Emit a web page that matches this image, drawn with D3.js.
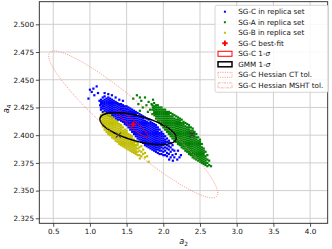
<!DOCTYPE html>
<html>
<head>
<meta charset="utf-8">
<script src="https://cdn.jsdelivr.net/npm/d3@7"></script>
<style>
  html, body { margin: 0; padding: 0; background: #fff; }
  svg { display: block; font-family: "DejaVu Sans", sans-serif; }
</style>
</head>
<body>
<svg id="chart" width="332" height="249"></svg>
<script>
// tick labels
const xTicks = [0.5, 1.0, 1.5, 2.0, 2.5, 3.0, 3.5, 4.0];
const yTicks = [2.325, 2.350, 2.375, 2.400, 2.425, 2.450, 2.475, 2.500];

// replica clouds: [a2, [a4 values]]
const sgcReplicas = [
  [0.98, [2.433]], [1.00, [2.441]], [1.024, [2.439]], [1.047, [2.442]], [1.06, [2.436]],
  [1.092, [2.444]], [1.11, [2.438]], [1.13, [2.431]], [1.14, [2.427]],
  [1.150, [2.423, 2.425, 2.428, 2.430, 2.432]],
  [1.175, [2.421, 2.424, 2.426, 2.427, 2.429, 2.431, 2.434]],
  [1.200, [2.420, 2.422, 2.424, 2.426, 2.428, 2.430, 2.432, 2.435, 2.438]],
  [1.225, [2.419, 2.421, 2.423, 2.425, 2.427, 2.429, 2.431, 2.433]],
  [1.250, [2.418, 2.420, 2.422, 2.424, 2.426, 2.428, 2.430, 2.432, 2.434, 2.437]],
  [1.275, [2.417, 2.419, 2.421, 2.423, 2.425, 2.427, 2.429, 2.431, 2.433]],
  [1.300, [2.416, 2.418, 2.420, 2.422, 2.424, 2.426, 2.428, 2.430, 2.432, 2.436]],
  [1.325, [2.416, 2.418, 2.420, 2.421, 2.423, 2.425, 2.427, 2.429, 2.431]],
  [1.350, [2.415, 2.417, 2.419, 2.421, 2.423, 2.425, 2.427, 2.429, 2.430, 2.434]],
  [1.375, [2.414, 2.416, 2.418, 2.420, 2.422, 2.424, 2.426, 2.428, 2.429]],
  [1.400, [2.414, 2.416, 2.418, 2.419, 2.421, 2.423, 2.425, 2.427, 2.428, 2.432]],
  [1.425, [2.413, 2.415, 2.417, 2.419, 2.421, 2.423, 2.424, 2.426, 2.428]],
  [1.450, [2.412, 2.414, 2.416, 2.418, 2.420, 2.422, 2.424, 2.426, 2.427, 2.431]],
  [1.475, [2.410, 2.412, 2.414, 2.416, 2.418, 2.420, 2.422, 2.424, 2.426]],
  [1.500, [2.409, 2.411, 2.413, 2.415, 2.417, 2.419, 2.421, 2.423, 2.424, 2.426]],
  [1.525, [2.407, 2.409, 2.411, 2.413, 2.415, 2.417, 2.419, 2.421, 2.423, 2.425]],
  [1.550, [2.405, 2.407, 2.409, 2.411, 2.413, 2.415, 2.417, 2.419, 2.421, 2.422, 2.424]],
  [1.575, [2.403, 2.405, 2.407, 2.409, 2.411, 2.413, 2.415, 2.417, 2.419, 2.421, 2.423]],
  [1.600, [2.401, 2.403, 2.405, 2.407, 2.409, 2.411, 2.413, 2.415, 2.417, 2.419, 2.420, 2.422]],
  [1.625, [2.399, 2.401, 2.403, 2.405, 2.407, 2.409, 2.411, 2.413, 2.415, 2.417, 2.419, 2.421]],
  [1.650, [2.397, 2.399, 2.401, 2.403, 2.405, 2.407, 2.409, 2.411, 2.413, 2.415, 2.417, 2.420]],
  [1.675, [2.396, 2.398, 2.400, 2.402, 2.404, 2.406, 2.408, 2.410, 2.412, 2.414, 2.416, 2.419]],
  [1.700, [2.394, 2.396, 2.398, 2.400, 2.402, 2.404, 2.406, 2.408, 2.410, 2.412, 2.414, 2.416, 2.418]],
  [1.725, [2.393, 2.395, 2.397, 2.399, 2.401, 2.403, 2.405, 2.407, 2.409, 2.411, 2.413, 2.415, 2.417]],
  [1.750, [2.391, 2.393, 2.395, 2.397, 2.399, 2.401, 2.403, 2.405, 2.407, 2.409, 2.411, 2.413, 2.416]],
  [1.775, [2.390, 2.392, 2.394, 2.396, 2.398, 2.400, 2.402, 2.404, 2.406, 2.408, 2.410, 2.412, 2.415]],
  [1.800, [2.389, 2.391, 2.393, 2.395, 2.397, 2.399, 2.401, 2.403, 2.405, 2.407, 2.409, 2.411, 2.414]],
  [1.825, [2.388, 2.390, 2.392, 2.394, 2.396, 2.398, 2.400, 2.402, 2.404, 2.406, 2.408, 2.410, 2.412]],
  [1.850, [2.387, 2.389, 2.391, 2.393, 2.395, 2.397, 2.399, 2.401, 2.403, 2.405, 2.407, 2.409, 2.411]],
  [1.875, [2.386, 2.388, 2.390, 2.392, 2.394, 2.396, 2.398, 2.400, 2.402, 2.404, 2.406, 2.408, 2.410]],
  [1.900, [2.385, 2.387, 2.389, 2.391, 2.393, 2.395, 2.397, 2.399, 2.401, 2.403, 2.405, 2.407, 2.409]],
  [1.925, [2.384, 2.387, 2.389, 2.391, 2.393, 2.395, 2.397, 2.399, 2.401, 2.403, 2.405, 2.407]],
  [1.950, [2.383, 2.386, 2.388, 2.390, 2.392, 2.394, 2.396, 2.398, 2.400, 2.402, 2.405]],
  [1.975, [2.383, 2.386, 2.389, 2.391, 2.393, 2.395, 2.397, 2.399, 2.401, 2.403]],
  [2.000, [2.382, 2.385, 2.388, 2.391, 2.393, 2.395, 2.397, 2.399, 2.401]],
  [2.025, [2.382, 2.386, 2.389, 2.392, 2.394, 2.396, 2.399]],
  [2.050, [2.381, 2.384, 2.388, 2.391, 2.394, 2.397]],
  [2.075, [2.383, 2.387, 2.390, 2.393, 2.395]],
  [2.100, [2.380, 2.385, 2.389, 2.393]],
  [2.125, [2.382, 2.387, 2.391]],
  [2.150, [2.380, 2.386]],
  [2.08, [2.378]], [2.13, [2.377]], [2.17, [2.383]], [2.19, [2.378]], [2.20, [2.386]],
  [2.22, [2.380]], [2.24, [2.382]]
];

const sgaReplicas = [
  [1.59, [2.433]], [1.64, [2.436]], [1.66, [2.428]], [1.68, [2.422, 2.434]], [1.70, [2.431]],
  [1.72, [2.425]], [1.75, [2.434]], [1.77, [2.427]], [1.79, [2.421]], [1.80, [2.430]],
  [1.82, [2.423]], [1.84, [2.428]], [1.86, [2.425, 2.432]],
  [1.850, [2.419, 2.423, 2.427]],
  [1.875, [2.418, 2.420, 2.422, 2.424, 2.426, 2.429]],
  [1.900, [2.415, 2.417, 2.419, 2.421, 2.423, 2.425, 2.427]],
  [1.925, [2.413, 2.415, 2.417, 2.419, 2.421, 2.423, 2.425, 2.427]],
  [1.950, [2.411, 2.413, 2.415, 2.417, 2.419, 2.421, 2.423, 2.425]],
  [1.975, [2.409, 2.411, 2.413, 2.415, 2.417, 2.419, 2.421, 2.423, 2.425]],
  [2.000, [2.407, 2.409, 2.411, 2.413, 2.415, 2.417, 2.419, 2.421, 2.423]],
  [2.025, [2.405, 2.407, 2.409, 2.411, 2.413, 2.415, 2.417, 2.419, 2.421, 2.423]],
  [2.050, [2.403, 2.405, 2.407, 2.409, 2.411, 2.413, 2.415, 2.417, 2.419, 2.421]],
  [2.075, [2.401, 2.403, 2.405, 2.407, 2.409, 2.411, 2.413, 2.415, 2.417, 2.419, 2.421]],
  [2.100, [2.399, 2.401, 2.403, 2.405, 2.407, 2.409, 2.411, 2.413, 2.415, 2.417, 2.420]],
  [2.125, [2.397, 2.399, 2.401, 2.403, 2.405, 2.407, 2.409, 2.411, 2.413, 2.415, 2.417, 2.419]],
  [2.150, [2.395, 2.397, 2.399, 2.401, 2.403, 2.405, 2.407, 2.409, 2.411, 2.413, 2.415, 2.418]],
  [2.175, [2.394, 2.396, 2.398, 2.400, 2.402, 2.404, 2.406, 2.408, 2.410, 2.412, 2.414, 2.417]],
  [2.200, [2.392, 2.394, 2.396, 2.398, 2.400, 2.402, 2.404, 2.406, 2.408, 2.410, 2.412, 2.414, 2.416]],
  [2.225, [2.391, 2.393, 2.395, 2.397, 2.399, 2.401, 2.403, 2.405, 2.407, 2.409, 2.411, 2.413, 2.415]],
  [2.250, [2.389, 2.391, 2.393, 2.395, 2.397, 2.399, 2.401, 2.403, 2.405, 2.407, 2.409, 2.411, 2.414]],
  [2.275, [2.388, 2.390, 2.392, 2.394, 2.396, 2.398, 2.400, 2.402, 2.404, 2.406, 2.408, 2.410, 2.412]],
  [2.300, [2.386, 2.388, 2.390, 2.392, 2.394, 2.396, 2.398, 2.400, 2.402, 2.404, 2.406, 2.408, 2.411]],
  [2.325, [2.385, 2.387, 2.389, 2.391, 2.393, 2.395, 2.397, 2.399, 2.401, 2.403, 2.405, 2.407, 2.410]],
  [2.350, [2.383, 2.385, 2.387, 2.389, 2.391, 2.393, 2.395, 2.397, 2.399, 2.401, 2.403, 2.405, 2.407, 2.409]],
  [2.375, [2.382, 2.384, 2.386, 2.388, 2.390, 2.392, 2.394, 2.396, 2.398, 2.400, 2.402, 2.404, 2.407]],
  [2.400, [2.380, 2.382, 2.384, 2.386, 2.388, 2.390, 2.392, 2.394, 2.396, 2.398, 2.400, 2.402, 2.404, 2.406]],
  [2.425, [2.379, 2.381, 2.383, 2.385, 2.387, 2.389, 2.391, 2.393, 2.395, 2.397, 2.399, 2.401, 2.403]],
  [2.450, [2.378, 2.380, 2.382, 2.384, 2.386, 2.388, 2.390, 2.392, 2.394, 2.396, 2.398, 2.401]],
  [2.475, [2.377, 2.379, 2.381, 2.383, 2.385, 2.387, 2.389, 2.391, 2.393, 2.395, 2.398]],
  [2.500, [2.376, 2.378, 2.380, 2.382, 2.384, 2.386, 2.388, 2.390, 2.392, 2.394, 2.396]],
  [2.525, [2.375, 2.377, 2.379, 2.381, 2.383, 2.385, 2.387, 2.389, 2.392]],
  [2.550, [2.374, 2.376, 2.378, 2.380, 2.382, 2.384, 2.386, 2.388]],
  [2.575, [2.373, 2.375, 2.377, 2.379, 2.381, 2.385]],
  [2.600, [2.372, 2.375, 2.378, 2.382]],
  [2.625, [2.373, 2.377]],
  [2.650, [2.372]]
];

const sgbReplicas = [
  [1.150, [2.413, 2.416, 2.418]],
  [1.175, [2.408, 2.410, 2.412, 2.414, 2.416, 2.419]],
  [1.200, [2.405, 2.407, 2.409, 2.411, 2.413, 2.415, 2.417, 2.420]],
  [1.225, [2.403, 2.405, 2.407, 2.409, 2.411, 2.413, 2.415, 2.417, 2.419]],
  [1.250, [2.401, 2.403, 2.405, 2.407, 2.409, 2.411, 2.413, 2.415, 2.417, 2.419]],
  [1.275, [2.400, 2.402, 2.404, 2.406, 2.408, 2.410, 2.412, 2.414, 2.416, 2.418]],
  [1.300, [2.398, 2.400, 2.402, 2.404, 2.406, 2.408, 2.410, 2.412, 2.414, 2.416]],
  [1.325, [2.397, 2.399, 2.401, 2.403, 2.405, 2.407, 2.409, 2.411, 2.413, 2.415]],
  [1.350, [2.395, 2.397, 2.399, 2.401, 2.403, 2.405, 2.407, 2.409, 2.411, 2.413]],
  [1.375, [2.394, 2.396, 2.398, 2.400, 2.402, 2.404, 2.406, 2.408, 2.410, 2.412]],
  [1.400, [2.392, 2.394, 2.396, 2.398, 2.400, 2.402, 2.404, 2.406, 2.408, 2.410]],
  [1.425, [2.391, 2.393, 2.395, 2.397, 2.399, 2.401, 2.403, 2.405, 2.407, 2.409]],
  [1.450, [2.390, 2.392, 2.394, 2.396, 2.398, 2.400, 2.402, 2.404, 2.407]],
  [1.475, [2.389, 2.391, 2.393, 2.395, 2.397, 2.399, 2.401, 2.403, 2.405]],
  [1.500, [2.388, 2.390, 2.392, 2.394, 2.396, 2.398, 2.400, 2.402, 2.404]],
  [1.525, [2.387, 2.389, 2.391, 2.393, 2.395, 2.397, 2.399, 2.401]],
  [1.550, [2.386, 2.388, 2.390, 2.392, 2.394, 2.396, 2.398, 2.400]],
  [1.575, [2.385, 2.387, 2.389, 2.391, 2.393, 2.395, 2.397, 2.399]],
  [1.600, [2.384, 2.386, 2.388, 2.390, 2.392, 2.394, 2.396]],
  [1.625, [2.383, 2.385, 2.387, 2.389, 2.391, 2.394]],
  [1.650, [2.382, 2.385, 2.388, 2.391, 2.393]],
  [1.675, [2.382, 2.386, 2.389]],
  [1.700, [2.381, 2.385, 2.390]],
  [1.725, [2.383, 2.387]],
  [1.750, [2.380, 2.384]],
  [1.68, [2.379]], [1.78, [2.381]], [1.80, [2.376]]
];

// best fits and 1-sigma covariances: [a2, a4] and [sigma2, sigma4, rho]
const sgcBestFit = [1.59, 2.4097];
const sgcSigma = [0.2005, 0.01153, -0.934];
const gmmCenter = [1.656, 2.4059];
const gmmSigma = [0.520, 0.01443, -0.589];
const ctTolerance = 5.745;
const otherBestFits = [[2.392, 2.4006], [1.387, 2.400]];

const legendLabels = [
  'SG-C in replica set', 'SG-A in replica set', 'SG-B in replica set', 'SG-C best-fit',
  'SG-C 1-', 'GMM 1-', 'SG-C Hessian CT tol.', 'SG-C Hessian MSHT tol.'
];

const svg = d3.select('#chart');
const W = 332, H = 249;
const m = { left: 39.3, right: 327.7, top: 1.7, bottom: 223.3 };

const x = d3.scaleLinear().domain([0.31, 4.24]).range([m.left, m.right]);
const y = d3.scaleLinear().domain([2.3205, 2.5204]).range([m.bottom, m.top]);

svg.append('defs').append('clipPath').attr('id', 'plot')
  .append('rect').attr('x', m.left).attr('y', m.top)
  .attr('width', m.right - m.left).attr('height', m.bottom - m.top);

// grid
const grid = svg.append('g').attr('stroke', '#cfcfcf').attr('stroke-width', 1);
grid.selectAll('.gx').data(xTicks).enter().append('line')
  .attr('x1', d => x(d)).attr('x2', d => x(d)).attr('y1', m.top).attr('y2', m.bottom);
grid.selectAll('.gy').data(yTicks).enter().append('line')
  .attr('y1', d => y(d)).attr('y2', d => y(d)).attr('x1', m.left).attr('x2', m.right);

const plot = svg.append('g').attr('clip-path', 'url(#plot)');

function cloud(cols, color) {
  const pts = cols.flatMap(([a, ys]) => ys.map(b => [a, b]));
  plot.append('g').attr('fill', color)
    .selectAll('rect').data(pts).enter().append('rect')
    .attr('x', d => x(d[0]) - 1.1).attr('y', d => y(d[1]) - 1.1)
    .attr('width', 2.2).attr('height', 2.2);
}
cloud(sgcReplicas, '#0000ff');
cloud(sgaReplicas, '#008000');
cloud(sgbReplicas, '#bfbf00');

// ellipse outline from a centre and [s2, s4, rho], scaled by k
function ellipse(c, s, k) {
  const t = d3.range(0, 361, 2).map(a => a * Math.PI / 180);
  const r = Math.sqrt(1 - s[2] * s[2]);
  return d3.line()
    .x(a => x(c[0] + k * s[0] * Math.cos(a)))
    .y(a => y(c[1] + k * s[1] * (s[2] * Math.cos(a) + r * Math.sin(a))))(t);
}

plot.append('path').attr('d', ellipse(sgcBestFit, sgcSigma, 1))
  .attr('fill', 'none').attr('stroke', '#ff0000').attr('stroke-width', 1);
plot.append('path').attr('d', ellipse(gmmCenter, gmmSigma, 1))
  .attr('fill', 'none').attr('stroke', '#000').attr('stroke-width', 1.5);
plot.append('path').attr('d', ellipse(sgcBestFit, sgcSigma, ctTolerance))
  .attr('fill', 'none').attr('stroke', '#f28a78').attr('stroke-width', 0.9)
  .attr('stroke-dasharray', '1 1.3');

// best-fit markers
const plusPath = 'M-0.9,-2.7H0.9V-0.9H2.7V0.9H0.9V2.7H-0.9V0.9H-2.7V-0.9H-0.9Z';
plot.append('path').attr('d', plusPath)
  .attr('transform', `translate(${x(sgcBestFit[0])},${y(sgcBestFit[1])})`)
  .attr('fill', '#ff0000');
plot.selectAll('.bx').data(otherBestFits).enter().append('path')
  .attr('d', 'M-2.5,-2.5L2.5,2.5M-2.5,2.5L2.5,-2.5')
  .attr('transform', d => `translate(${x(d[0])},${y(d[1])})`)
  .attr('stroke', '#3a3a3a').attr('stroke-width', 1.1);

// axes
const xAxis = svg.append('g').attr('transform', `translate(0,${m.bottom})`)
  .call(d3.axisBottom(x).tickValues(xTicks).tickFormat(d3.format('.1f')).tickSize(3.5).tickPadding(2.5));
const yAxis = svg.append('g').attr('transform', `translate(${m.left},0)`)
  .call(d3.axisLeft(y).tickValues(yTicks).tickFormat(d3.format('.3f')).tickSize(3.5).tickPadding(1.8));
[xAxis, yAxis].forEach(g => {
  g.select('.domain').remove();
  g.selectAll('line').attr('stroke', '#222').attr('stroke-width', 0.8);
  g.selectAll('text').attr('font-size', 7.2).attr('fill', '#111')
    .attr('font-family', '"DejaVu Sans", sans-serif');
});
svg.append('rect').attr('x', m.left).attr('y', m.top)
  .attr('width', m.right - m.left).attr('height', m.bottom - m.top)
  .attr('fill', 'none').attr('stroke', '#222').attr('stroke-width', 0.9);

// axis labels
const xl = svg.append('text').attr('x', (m.left + m.right) / 2).attr('y', 244)
  .attr('text-anchor', 'middle').attr('font-size', 8.2).attr('fill', '#111');
xl.append('tspan').attr('font-style', 'italic').text('a');
xl.append('tspan').attr('font-size', 5.8).attr('dy', 1.6).text('2');
const yl = svg.append('text').attr('transform', 'translate(9,109) rotate(-90)')
  .attr('text-anchor', 'middle').attr('font-size', 8.2).attr('fill', '#111');
yl.append('tspan').attr('font-style', 'italic').text('a');
yl.append('tspan').attr('font-size', 5.8).attr('dy', 1.6).text('4');

// legend
const lg = svg.append('g');
lg.append('rect').attr('x', 215).attr('y', 5.3).attr('width', 113.5).attr('height', 87)
  .attr('rx', 2).attr('fill', '#fff').attr('fill-opacity', 0.85)
  .attr('stroke', '#cccccc').attr('stroke-width', 0.8);
const rowY = i => 11.7 + i * 10.52;
const dotColors = ['#0000ff', '#008000', '#bfbf00'];
dotColors.forEach((c, i) => {
  lg.append('rect').attr('x', 223.9).attr('y', rowY(i) - 1).attr('width', 2).attr('height', 2).attr('fill', c);
});
lg.append('path').attr('d', plusPath).attr('transform', `translate(224.9,${rowY(3)})`).attr('fill', '#ff0000');
const boxes = [
  { stroke: '#ff0000', w: 1, dash: null },
  { stroke: '#000', w: 1.5, dash: null },
  { stroke: '#f28a78', w: 0.9, dash: '1 1.3' },
  { stroke: '#f6a898', w: 0.9, dash: '2.5 1 1 1' }
];
boxes.forEach((b, j) => {
  lg.append('rect').attr('x', 218).attr('y', rowY(4 + j) - 2.5).attr('width', 14).attr('height', 5)
    .attr('fill', 'none').attr('stroke', b.stroke).attr('stroke-width', b.w)
    .attr('stroke-dasharray', b.dash);
});
legendLabels.forEach((t, i) => {
  const tx = lg.append('text').attr('x', 238.3).attr('y', rowY(i)).attr('dy', '0.36em')
    .attr('font-size', 7.2).attr('fill', '#111').text(t);
  if (i === 4 || i === 5) tx.append('tspan').attr('font-style', 'italic').text('σ');
});
</script>
</body>
</html>
